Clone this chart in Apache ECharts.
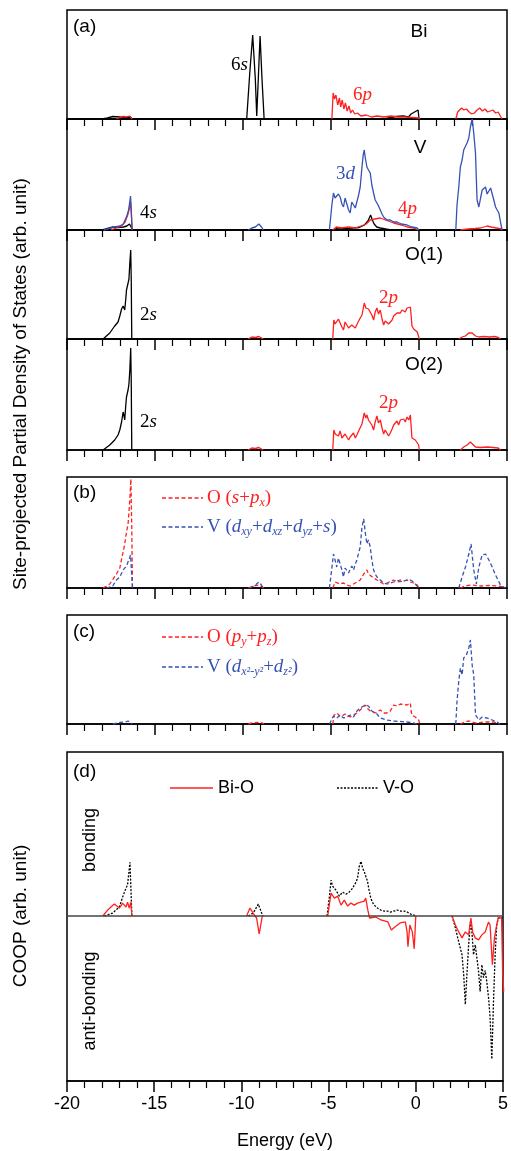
<!DOCTYPE html>
<html>
<head>
<meta charset="utf-8">
<script src="https://cdn.jsdelivr.net/npm/echarts@6/dist/echarts.min.js"></script>
<style>
html, body { margin: 0; padding: 0; background: #fff; }
#chart { width: 511px; height: 1151px; }
</style>
</head>
<body>
<div id="chart"></div>
<script>
var RED = '#ff2020';
var BLUE = '#3652b4';
var BLACK = '#000';

// x axis (energy, eV)
var xMin = -20, xMax = 5, xStep = 5;

// ---- (a) Bi ----  each curve: list of segments of [eV, value]
var bi6s = [
    [[-18.0, 0], [-17.7, 1], [-17.4, 2.5], [-17.0, 2], [-16.7, 1.5], [-16.4, 2], [-16.3, 0]],
    [[-9.79, 0], [-9.62, 45], [-9.45, 84], [-9.3, 40], [-9.22, 3], [-9.12, 45], [-9.03, 83], [-8.92, 40], [-8.80, 0]],
    [[-2.0, 0], [-1.6, 1.5], [-1.3, 2.5], [-0.9, 3], [-0.6, 2], [-0.45, 5], [-0.35, 3], [-0.25, 7], [-0.15, 5], [-0.05, 9], [0.0, 0]]
];
var bi6p = [
    [[-17.2, 0], [-17.0, 1.5], [-16.8, 2.5], [-16.6, 2], [-16.45, 3], [-16.35, 1], [-16.3, 0]],
    [[-4.95, 0], [-4.88, 26], [-4.8, 20], [-4.72, 24], [-4.62, 14], [-4.52, 21], [-4.45, 12], [-4.36, 19], [-4.27, 10], [-4.18, 16],
        [-4.08, 8], [-3.98, 13], [-3.88, 6], [-3.78, 9], [-3.65, 5], [-3.5, 6], [-3.3, 3], [-3.0, 4], [-2.7, 2], [-2.4, 3],
        [-2.0, 2], [-1.6, 3], [-1.2, 2], [-0.8, 2], [-0.4, 1.5], [0.0, 1], [0.05, 0]],
    [[2.09, 0], [2.2, 7], [2.3, 5], [2.42, 11], [2.55, 9], [2.7, 10], [2.85, 7], [3.0, 5], [3.15, 6], [3.3, 9], [3.45, 11],
        [3.6, 8], [3.75, 10], [3.9, 7], [4.05, 8], [4.2, 9], [4.35, 6], [4.5, 7], [4.62, 3], [4.72, 0]]
];

// ---- (a) V ----
var v4s = [
    [[-18.0, 0], [-17.7, 1.5], [-17.4, 3], [-17.1, 2.5], [-16.8, 3], [-16.6, 4], [-16.45, 6], [-16.4, 7], [-16.33, 2], [-16.3, 0]],
    [[-4.9, 0], [-4.6, 2], [-4.2, 1.5], [-3.8, 2], [-3.4, 2.5], [-3.1, 5], [-2.9, 9], [-2.75, 15], [-2.65, 10], [-2.55, 6],
        [-2.4, 3], [-2.2, 2], [-1.9, 1], [-1.6, 0]]
];
var v3d = [
    [[-17.9, 0], [-17.6, 1.5], [-17.3, 3], [-17.0, 4], [-16.8, 6], [-16.7, 10], [-16.6, 14], [-16.5, 20], [-16.42, 30], [-16.39, 34], [-16.35, 20], [-16.3, 0]],
    [[-9.7, 0], [-9.5, 2], [-9.3, 3], [-9.1, 6], [-9.03, 7], [-8.95, 3], [-8.85, 0]],
    [[-5.09, 0], [-4.95, 25], [-4.86, 37], [-4.77, 32], [-4.67, 30], [-4.58, 36], [-4.48, 33], [-4.38, 26], [-4.29, 23], [-4.2, 32],
        [-4.1, 30], [-4.0, 20], [-3.91, 17], [-3.82, 28], [-3.72, 30], [-3.62, 22], [-3.53, 23], [-3.43, 35], [-3.34, 43], [-3.24, 63],
        [-3.17, 75], [-3.11, 80], [-3.05, 72], [-2.96, 63], [-2.87, 60], [-2.77, 57], [-2.68, 45], [-2.58, 37], [-2.49, 30], [-2.39, 27],
        [-2.3, 24], [-2.2, 20], [-2.1, 16], [-2.01, 13], [-1.82, 10], [-1.63, 10], [-1.44, 8], [-1.25, 8], [-1.0, 6], [-0.68, 5],
        [-0.4, 3], [-0.11, 2], [0.0, 0]],
    [[2.09, 0], [2.16, 25], [2.26, 43], [2.35, 63], [2.45, 70], [2.54, 80], [2.64, 78], [2.73, 87], [2.83, 92], [2.92, 103],
        [3.02, 111], [3.11, 97], [3.21, 77], [3.26, 50], [3.3, 30], [3.4, 23], [3.5, 32], [3.59, 40], [3.68, 38], [3.78, 43],
        [3.87, 36], [3.97, 37], [4.07, 42], [4.16, 40], [4.25, 30], [4.35, 23], [4.44, 20], [4.54, 17], [4.63, 8], [4.72, 0]]
];
var v4p = [
    [[-17.5, 0], [-17.2, 2], [-16.9, 4], [-16.7, 8], [-16.55, 15], [-16.45, 22], [-16.39, 28], [-16.34, 15], [-16.3, 0]],
    [[-4.9, 0], [-4.7, 3], [-4.4, 2], [-4.0, 3], [-3.6, 2], [-3.3, 4], [-3.0, 6], [-2.77, 10], [-2.5, 11], [-2.2, 12],
        [-1.9, 10], [-1.44, 7], [-1.0, 5], [-0.68, 3], [-0.3, 2], [-0.05, 0]],
    [[2.35, 0], [2.8, 1], [3.2, 1.5], [3.5, 2], [3.87, 4], [4.1, 3], [4.4, 2], [4.7, 1], [4.75, 0]]
];

// ---- (a) O(1) ----
var o1s = [
    [[-17.95, 0], [-17.57, 6], [-17.29, 13], [-17.1, 17], [-17.0, 23], [-16.9, 30], [-16.81, 33], [-16.76, 35], [-16.72, 29],
        [-16.66, 40], [-16.62, 49], [-16.53, 56], [-16.48, 60], [-16.43, 76], [-16.38, 89], [-16.35, 60], [-16.32, 0]]
];
var o1p = [
    [[-9.7, 0], [-9.5, 2], [-9.3, 1.5], [-9.1, 2.5], [-8.95, 1], [-8.85, 0]],
    [[-4.9, 0], [-4.84, 19], [-4.76, 15], [-4.67, 16], [-4.58, 20], [-4.48, 18], [-4.38, 12], [-4.29, 9], [-4.2, 17], [-4.1, 16],
        [-4.0, 11], [-3.91, 9], [-3.82, 14], [-3.72, 16], [-3.62, 11], [-3.53, 13], [-3.43, 18], [-3.34, 21], [-3.24, 24], [-3.11, 36],
        [-3.02, 31], [-2.96, 33], [-2.87, 30], [-2.77, 29], [-2.68, 24], [-2.58, 19], [-2.49, 27], [-2.39, 31], [-2.3, 25], [-2.2, 29],
        [-2.1, 20], [-2.01, 14], [-1.92, 18], [-1.82, 18], [-1.73, 15], [-1.63, 13], [-1.53, 19], [-1.44, 23], [-1.35, 25], [-1.25, 26],
        [-1.16, 24], [-1.06, 26], [-0.97, 29], [-0.87, 29], [-0.78, 27], [-0.68, 31], [-0.58, 29], [-0.49, 32], [-0.44, 22], [-0.4, 13],
        [-0.3, 10], [-0.21, 9], [-0.1, 7], [-0.02, 5], [0.02, 0]],
    [[2.26, 0], [2.45, 2], [2.64, 3], [2.83, 6], [2.92, 8], [3.02, 6], [3.21, 3], [3.4, 2], [3.7, 2.5], [4.0, 2], [4.3, 2.5], [4.5, 1.5], [4.63, 0]]
];

// ---- (a) O(2) ----
var o2s = [
    [[-17.95, 0], [-17.57, 5], [-17.29, 10], [-17.1, 15], [-17.0, 20], [-16.9, 28], [-16.81, 38], [-16.76, 34], [-16.72, 30],
        [-16.66, 45], [-16.62, 53], [-16.53, 60], [-16.48, 66], [-16.43, 80], [-16.38, 102], [-16.35, 70], [-16.32, 0]]
];
var o2p = [
    [[-9.7, 0], [-9.5, 2], [-9.3, 1.5], [-9.1, 2.5], [-8.95, 1], [-8.85, 0]],
    [[-4.9, 0], [-4.84, 20], [-4.76, 16], [-4.67, 18], [-4.58, 14], [-4.48, 19], [-4.38, 12], [-4.29, 10], [-4.2, 16], [-4.1, 15],
        [-4.0, 10], [-3.91, 13], [-3.82, 15], [-3.72, 17], [-3.62, 12], [-3.53, 15], [-3.43, 19], [-3.34, 20], [-3.24, 26], [-3.11, 37],
        [-3.02, 32], [-2.96, 35], [-2.87, 30], [-2.77, 32], [-2.68, 25], [-2.58, 20], [-2.49, 28], [-2.39, 34], [-2.3, 27], [-2.2, 30],
        [-2.1, 22], [-2.01, 16], [-1.92, 20], [-1.82, 19], [-1.73, 14], [-1.63, 17], [-1.53, 21], [-1.44, 25], [-1.35, 26], [-1.25, 29],
        [-1.16, 25], [-1.06, 30], [-0.97, 28], [-0.87, 31], [-0.78, 28], [-0.68, 33], [-0.58, 30], [-0.49, 35], [-0.44, 22], [-0.4, 12],
        [-0.3, 12], [-0.21, 10], [-0.1, 11], [-0.02, 5], [0.02, 0]],
    [[2.35, 0], [2.54, 3], [2.73, 5], [2.92, 8], [3.02, 6], [3.21, 3], [3.5, 2.5], [3.9, 3], [4.2, 2.5], [4.5, 2], [4.63, 0]]
];

// ---- (b) ----
var bO = [
    [[-17.95, 0], [-17.57, 4], [-17.19, 14], [-17.0, 20], [-16.91, 28], [-16.81, 36], [-16.72, 44], [-16.62, 56], [-16.53, 64],
        [-16.48, 76], [-16.43, 88], [-16.37, 109], [-16.32, 60], [-16.28, 0]],
    [[-9.7, 0], [-9.4, 2], [-9.1, 3], [-8.9, 1], [-8.8, 0]],
    [[-4.9, 0], [-4.76, 6], [-4.5, 4], [-4.3, 5], [-4.1, 3], [-3.91, 2], [-3.72, 4], [-3.53, 6], [-3.34, 8], [-3.14, 14],
        [-2.96, 18], [-2.87, 14], [-2.77, 15], [-2.58, 10], [-2.39, 8], [-2.2, 6], [-2.01, 4], [-1.82, 5], [-1.44, 8], [-1.2, 6],
        [-0.87, 7], [-0.68, 8], [-0.49, 6], [-0.3, 5], [-0.1, 3], [0.0, 0]],
    [[2.35, 0], [2.6, 2], [3.0, 3], [3.5, 2], [4.0, 2.5], [4.5, 2], [4.8, 1], [4.9, 0]]
];
var bV = [
    [[-17.76, 0], [-17.4, 2], [-17.19, 8], [-17.0, 11], [-16.81, 18], [-16.62, 22], [-16.53, 24], [-16.45, 30], [-16.39, 33], [-16.33, 15], [-16.28, 0]],
    [[-9.6, 0], [-9.3, 3], [-9.1, 6], [-9.03, 8], [-8.95, 3], [-8.85, 0]],
    [[-5.09, 0], [-4.95, 20], [-4.86, 34], [-4.77, 28], [-4.67, 21], [-4.58, 30], [-4.48, 28], [-4.38, 18], [-4.29, 11], [-4.2, 20],
        [-4.1, 21], [-4.0, 15], [-3.91, 13], [-3.82, 22], [-3.72, 18], [-3.62, 24], [-3.53, 28], [-3.43, 35], [-3.34, 41], [-3.24, 61],
        [-3.14, 69], [-3.05, 55], [-2.96, 44], [-2.87, 48], [-2.77, 41], [-2.68, 28], [-2.58, 18], [-2.49, 14], [-2.39, 11], [-2.2, 8],
        [-2.01, 5], [-1.82, 4], [-1.63, 5], [-1.44, 6], [-1.25, 7], [-1.06, 8], [-0.87, 7], [-0.68, 8], [-0.49, 8], [-0.3, 6],
        [-0.11, 2], [-0.02, 0]],
    [[2.26, 0], [2.45, 11], [2.64, 21], [2.83, 34], [2.96, 44], [3.11, 18], [3.26, 4], [3.4, 21], [3.59, 33], [3.78, 34],
        [3.97, 28], [4.16, 21], [4.35, 13], [4.63, 3], [4.91, 0]]
];

// ---- (c) ----
var cO = [
    [[-9.7, 0], [-9.5, 1], [-9.2, 1.5], [-8.9, 1], [-8.8, 0]],
    [[-4.9, 0], [-4.82, 9], [-4.67, 11], [-4.5, 8], [-4.38, 8], [-4.2, 10], [-4.1, 9], [-3.91, 7], [-3.82, 6], [-3.72, 9],
        [-3.53, 11], [-3.34, 14], [-3.05, 19], [-2.9, 15], [-2.77, 13], [-2.49, 11], [-2.2, 14], [-2.0, 11], [-1.92, 9], [-1.82, 11],
        [-1.63, 13], [-1.44, 19], [-1.25, 18], [-1.06, 20], [-0.97, 19], [-0.68, 19], [-0.49, 21], [-0.44, 12], [-0.4, 9], [-0.21, 7],
        [-0.02, 4], [0.05, 0]],
    [[2.35, 0], [2.6, 2], [2.83, 3], [3.0, 2], [3.2, 1], [3.68, 2], [4.25, 2], [4.6, 0]]
];
var cV = [
    [[-17.4, 0], [-17.0, 1.5], [-16.7, 2], [-16.53, 3], [-16.4, 2], [-16.3, 0]],
    [[-5.09, 0], [-4.86, 8], [-4.67, 6], [-4.48, 9], [-4.29, 6], [-4.1, 7], [-3.91, 9], [-3.72, 7], [-3.53, 13], [-3.34, 16],
        [-3.05, 19], [-2.87, 18], [-2.68, 13], [-2.39, 10], [-2.2, 6], [-1.82, 4], [-1.44, 3], [-0.68, 2], [-0.3, 1], [-0.11, 0]],
    [[2.09, 0], [2.16, 23], [2.26, 43], [2.35, 56], [2.45, 49], [2.54, 66], [2.69, 69], [2.83, 76], [2.92, 84], [3.02, 59],
        [3.11, 49], [3.21, 9], [3.4, 4], [3.59, 7], [3.87, 6], [4.16, 4], [4.44, 2], [4.59, 0]]
];

// ---- (d) COOP ----
var dBiO = [
    [[-17.95, 0], [-17.67, 6], [-17.29, 12], [-17.0, 8], [-16.81, 13], [-16.62, 9], [-16.53, 14], [-16.43, 8], [-16.34, 14], [-16.28, 0]],
    [[-9.7, 0], [-9.51, 8], [-9.26, 1], [-9.13, -2], [-8.98, -18], [-8.8, 0]],
    [[-5.05, 0], [-4.86, 23], [-4.67, 18], [-4.48, 20], [-4.29, 11], [-4.1, 16], [-3.91, 10], [-3.72, 13], [-3.53, 11], [-3.34, 13],
        [-2.96, 15], [-2.87, 18], [-2.75, 6], [-2.65, -2], [-2.3, -1], [-2.0, -4], [-1.6, -6], [-1.4, -14], [-1.2, -11], [-0.9, -7],
        [-0.6, -6], [-0.5, -16], [-0.45, -31], [-0.34, -9], [-0.2, -16], [-0.09, -33], [0.0, 0]],
    [[2.08, 0], [2.27, -9], [2.46, -16], [2.65, -22], [2.84, -16], [3.03, -19], [3.16, -2], [3.26, -16], [3.41, -22], [3.6, -24],
        [3.79, -19], [3.98, -16], [4.17, -6], [4.26, -9], [4.39, -49], [4.51, -22], [4.64, -9], [4.73, -2], [4.83, 0], [4.92, -2],
        [4.98, -56], [5.04, -76]]
];
var dVO = [
    [[-17.86, 0], [-17.38, 3], [-17.0, 9], [-16.81, 19], [-16.62, 28], [-16.53, 31], [-16.39, 54], [-16.34, 30], [-16.28, 0]],
    [[-9.6, 0], [-9.32, 3], [-9.03, 12], [-8.84, 3], [-8.75, 0]],
    [[-5.09, 0], [-4.95, 20], [-4.86, 36], [-4.77, 30], [-4.67, 28], [-4.58, 26], [-4.48, 25], [-4.38, 20], [-4.29, 18], [-4.2, 24],
        [-4.1, 25], [-4.0, 22], [-3.91, 21], [-3.82, 24], [-3.72, 25], [-3.62, 28], [-3.53, 31], [-3.43, 34], [-3.34, 38], [-3.24, 50],
        [-3.14, 55], [-3.05, 48], [-2.96, 45], [-2.87, 40], [-2.77, 35], [-2.68, 26], [-2.58, 18], [-2.49, 14], [-2.39, 11], [-2.2, 8],
        [-2.01, 6], [-1.82, 5], [-1.63, 5], [-1.44, 4], [-1.25, 5], [-1.06, 6], [-0.87, 5], [-0.68, 5], [-0.49, 4], [-0.3, 2],
        [-0.11, 1], [0.0, 0]],
    [[2.08, 0], [2.27, -12], [2.46, -26], [2.65, -39], [2.75, -60], [2.84, -89], [2.94, -56], [3.03, -29], [3.13, -6], [3.22, -16],
        [3.31, -39], [3.41, -29], [3.6, -56], [3.69, -76], [3.79, -49], [3.88, -62], [3.98, -55], [4.07, -66], [4.17, -82], [4.26, -102],
        [4.36, -144], [4.45, -89], [4.55, -39], [4.64, -9], [4.73, -2], [4.83, 0], [4.98, -2]]
];

// panels: top, height, yMin, yMax (pixels of the figure)
var panels = [
    [10, 109, 0, 109],
    [119, 111, 0, 111],
    [230, 109, 0, 109],
    [339, 111, 0, 111],
    [477, 111, 0, 111],
    [615, 109, 0, 109],
    [752, 331, -166, 165]
];

var SANS = 'Liberation Sans, Arial, sans-serif';
var SERIF = 'Liberation Serif, Times New Roman, serif';

// join segments with a gap so nothing is drawn along the baseline
function joinSeg(parts) {
    var out = [];
    parts.forEach(function (p, k) {
        if (k > 0) out.push([p[0][0], null]);
        out = out.concat(p);
    });
    return out;
}

function curve(parts, idx, color, dash, width) {
    return {
        type: 'line',
        xAxisIndex: idx,
        yAxisIndex: idx,
        data: joinSeg(parts),
        symbol: 'none',
        showSymbol: false,
        connectNulls: false,
        silent: true,
        lineStyle: {color: color, width: width || 1.3, type: dash || 'solid'},
        z: 3
    };
}

var grids = [], xAxes = [], yAxes = [];
panels.forEach(function (p, i) {
    var last = i === panels.length - 1;
    grids.push({
        left: 67, right: 4, top: p[0], height: p[1],
        show: true, borderColor: '#000', borderWidth: 1.5, backgroundColor: 'transparent'
    });
    xAxes.push({
        type: 'value', gridIndex: i, min: xMin, max: xMax, interval: xStep,
        axisLine: {show: true, onZero: false, lineStyle: {color: '#000', width: 1.5}},
        axisTick: {show: true, length: 11, lineStyle: {color: '#000', width: 1.5}},
        minorTick: {show: true, splitNumber: 5, length: 7, lineStyle: {color: '#000', width: 1.2}},
        splitLine: {show: false},
        axisLabel: {show: last, color: '#000', fontFamily: SANS, fontSize: 18, margin: 14},
        name: last ? 'Energy (eV)' : '',
        nameLocation: 'middle',
        nameGap: 51,
        nameTextStyle: {color: '#000', fontFamily: SANS, fontSize: 18}
    });
    yAxes.push({
        type: 'value', gridIndex: i, min: p[2], max: p[3],
        axisLine: {show: false}, axisTick: {show: false}, axisLabel: {show: false}, splitLine: {show: false}
    });
});

var series = [
    curve(bi6s, 0, BLACK),
    curve(bi6p, 0, RED),
    curve(v4s, 1, BLACK),
    curve(v4p, 1, RED),
    curve(v3d, 1, BLUE),
    curve(o1s, 2, BLACK),
    curve(o1p, 2, RED),
    curve(o2s, 3, BLACK),
    curve(o2p, 3, RED),
    curve(bO, 4, RED, [4, 2.5]),
    curve(bV, 4, BLUE, [4, 2.5]),
    curve(cO, 5, RED, [4, 2.5]),
    curve(cV, 5, BLUE, [4, 2.5]),
    curve(dVO, 6, BLACK, [2, 1.5], 1.3),
    curve(dBiO, 6, RED)
];
// zero line of the COOP panel
series[13].markLine = {
    silent: true, symbol: 'none', label: {show: false},
    lineStyle: {color: '#444', width: 1.5, type: 'solid'},
    data: [{yAxis: 0}]
};

// text helpers
function txt(x, y, text, opt) {
    opt = opt || {};
    return {
        type: 'text', x: x, y: y, rotation: opt.rot || 0, z: 10, silent: true,
        style: {
            text: text,
            fill: opt.color || '#000',
            fontFamily: opt.font || SANS,
            fontSize: opt.size || 19,
            fontStyle: opt.italic ? 'italic' : 'normal',
            align: opt.align || 'left', textAlign: opt.align || 'left',
            verticalAlign: 'middle', textVerticalAlign: 'middle',
            rich: opt.rich
        }
    };
}

function richSet(color) {
    return {
        n: {fontFamily: SERIF, fontSize: 19, fill: color, lineHeight: 22},
        i: {fontFamily: SERIF, fontSize: 19, fontStyle: 'italic', fill: color, lineHeight: 22},
        s: {fontFamily: SERIF, fontSize: 12, fontStyle: 'italic', fill: color, lineHeight: 12, verticalAlign: 'bottom'}
    };
}

function orb(x, y, num, letter, color, align) {
    return txt(x, y, '{n|' + num + '}{i|' + letter + '}', {rich: richSet(color), align: align, color: color});
}

function legLine(x1, x2, y, color, dash) {
    return {
        type: 'line', z: 10, silent: true,
        shape: {x1: x1, y1: y, x2: x2, y2: y},
        style: {stroke: color, lineWidth: 1.4, lineDash: dash}
    };
}

var graphics = [
    txt(73, 27, '(a)'), txt(73, 493, '(b)'), txt(73, 632, '(c)'), txt(73, 772, '(d)'),
    txt(419, 32, 'Bi', {align: 'center'}),
    txt(420, 148, 'V', {align: 'center'}),
    txt(424, 255, 'O(1)', {align: 'center'}),
    txt(424, 365, 'O(2)', {align: 'center'}),
    orb(248, 65, '6', 's', BLACK, 'right'),
    orb(353, 95, '6', 'p', RED),
    orb(336, 174, '3', 'd', BLUE),
    orb(398, 209, '4', 'p', RED),
    orb(140, 213, '4', 's', BLACK),
    orb(140, 315, '2', 's', BLACK),
    orb(379, 298, '2', 'p', RED),
    orb(140, 422, '2', 's', BLACK),
    orb(379, 403, '2', 'p', RED),
    // legend (b)
    legLine(162, 203, 498, RED, [4, 2.5]),
    txt(207, 498, '{n|O (}{i|s}{n|+}{i|p}{s|x}{n|)}', {rich: richSet(RED)}),
    legLine(162, 203, 527, BLUE, [4, 2.5]),
    txt(207, 527, '{n|V (}{i|d}{s|xy}{n|+}{i|d}{s|xz}{n|+}{i|d}{s|yz}{n|+}{i|s}{n|)}', {rich: richSet(BLUE)}),
    // legend (c)
    legLine(162, 203, 637, RED, [4, 2.5]),
    txt(207, 637, '{n|O (}{i|p}{s|y}{n|+}{i|p}{s|z}{n|)}', {rich: richSet(RED)}),
    legLine(162, 203, 667, BLUE, [4, 2.5]),
    txt(207, 667, '{n|V (}{i|d}{s|x²-y²}{n|+}{i|d}{s|z²}{n|)}', {rich: richSet(BLUE)}),
    // legend (d)
    legLine(170, 213, 788, RED, null),
    txt(218, 788, 'Bi-O', {size: 18}),
    legLine(337, 378, 788, BLACK, [2, 1.5]),
    txt(383, 788, 'V-O', {size: 18}),
    // axis titles
    txt(21, 384, 'Site-projected Partial Density of States (arb. unit)', {align: 'center', rot: Math.PI / 2}),
    txt(21, 916, 'COOP (arb. unit)', {align: 'center', rot: Math.PI / 2}),
    txt(90, 840, 'bonding', {align: 'center', rot: Math.PI / 2, size: 18}),
    txt(90, 1001, 'anti-bonding', {align: 'center', rot: Math.PI / 2, size: 18})
];

var chart = echarts.init(document.getElementById('chart'), null, {renderer: 'canvas'});
chart.setOption({
    animation: false,
    backgroundColor: '#fff',
    grid: grids,
    xAxis: xAxes,
    yAxis: yAxes,
    series: series,
    graphic: graphics
});
</script>
</body>
</html>
